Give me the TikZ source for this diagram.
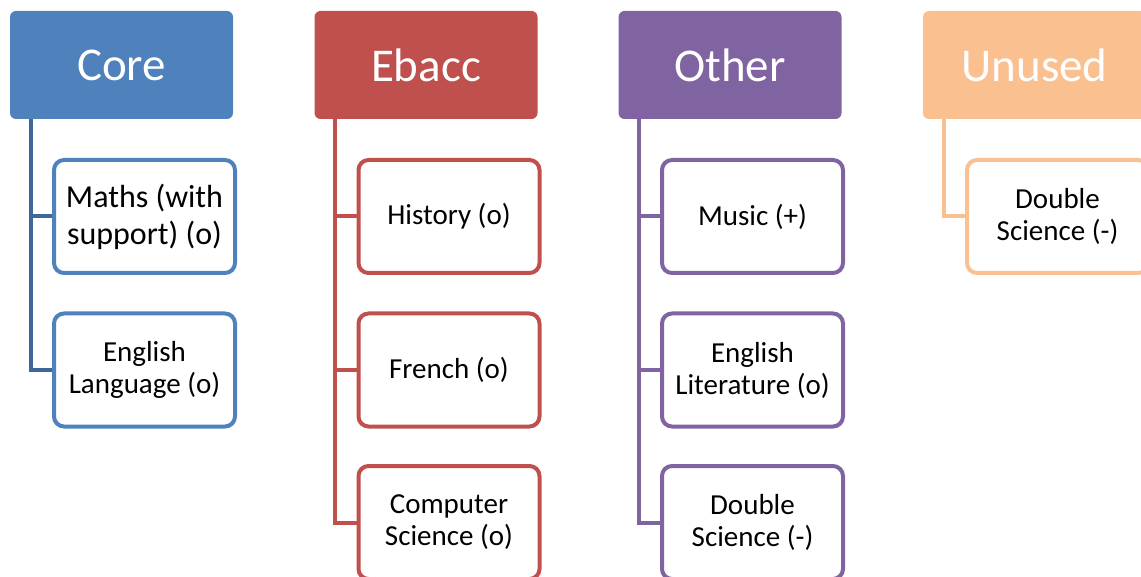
\documentclass[tikz,border=0pt]{standalone}
\usepackage{fontspec}
\setmainfont{Carlito}
\definecolor{coreblue}{HTML}{4F81BD}
\definecolor{corelink}{HTML}{3F6899}
\definecolor{ebaccred}{HTML}{C0504D}
\definecolor{otherpurple}{HTML}{8064A2}
\definecolor{unusedorange}{HTML}{FAC090}
\begin{document}
\begin{tikzpicture}[x=1pt,y=-1pt,
  head/.style={fill=#1, draw=none, rounded corners=6pt, minimum width=223pt, minimum height=108pt,
    inner sep=0pt, text=white, font=\fontsize{47}{53}\selectfont},
  item/.style={draw=#1, fill=white, line width=4pt, rounded corners=10pt, minimum width=181pt,
    minimum height=113pt, inner sep=0pt, align=center, text=black, font=\fontsize{29}{32}\selectfont},
  bigitem/.style={item=#1, font=\fontsize{32}{37}\selectfont},
  link/.style={draw=#1, line width=4pt}]
\useasboundingbox (0,0) rectangle (1141,577);

% column headers
\node[head=coreblue]     (core)   at (121.5,65) {Core};
\node[head=ebaccred]     (ebacc)  at (426,65)   {Ebacc};
\node[head=otherpurple]  (other)  at (730,65)   {Other};
\node[head=unusedorange] (unused) at (1034.5,65) {Unused};

% Core column
\node[bigitem=coreblue] (maths) at (144.5,216.5) {Maths (with\\support) (o)};
\node[item=coreblue]    (englang) at (144.5,370) {English\\Language (o)};
\draw[link=corelink] ([xshift=21pt]core.south west) |- (maths.west);
\draw[link=corelink] ([xshift=21pt]core.south west) |- (englang.west);

% Ebacc column
\node[item=ebaccred] (history) at (449,216.5) {History (o)};
\node[item=ebaccred] (french)  at (449,370)   {French (o)};
\node[item=ebaccred] (compsci) at (449,522.5) {Computer\\Science (o)};
\draw[link=ebaccred] ([xshift=21pt]ebacc.south west) |- (history.west);
\draw[link=ebaccred] ([xshift=21pt]ebacc.south west) |- (french.west);
\draw[link=ebaccred] ([xshift=21pt]ebacc.south west) |- (compsci.west);

% Other column
\node[item=otherpurple] (music)   at (752.5,216.5) {Music (+)};
\node[item=otherpurple] (englit)  at (752.5,370)   {English\\Literature (o)};
\node[item=otherpurple] (dblsci)  at (752.5,522.5) {Double\\Science (-)};
\draw[link=otherpurple] ([xshift=21pt]other.south west) |- (music.west);
\draw[link=otherpurple] ([xshift=21pt]other.south west) |- (englit.west);
\draw[link=otherpurple] ([xshift=21pt]other.south west) |- (dblsci.west);

% Unused column
\node[item=unusedorange] (unusedsci) at (1057.5,216.5) {Double\\Science (-)};
\draw[link=unusedorange] ([xshift=21pt]unused.south west) |- (unusedsci.west);
\end{tikzpicture}
\end{document}
